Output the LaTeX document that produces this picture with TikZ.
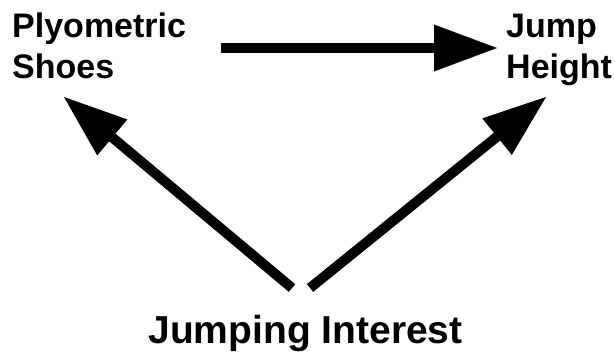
\documentclass[tikz,border=0pt]{standalone}
\usepackage{fontspec}
\setmainfont{Liberation Sans}
\usetikzlibrary{arrows.meta}
\begin{document}
\begin{tikzpicture}[x=1pt,y=-1pt,
  lbl/.style={font=\fontsize{34}{41}\selectfont\bfseries, inner sep=0pt, align=left, anchor=base west},
  bigarrow/.style={line width=10pt, -{Triangle[length=63pt,width=47pt,line width=0pt]}}]
\useasboundingbox (0,0) rectangle (615,356);
\node[lbl] (ps) at (12,78) {Plyometric\\Shoes};
\node[lbl] (jh) at (506,78) {Jump\\Height};
\node[font=\fontsize{39}{45}\selectfont\bfseries, inner sep=0pt, anchor=base] (ji) at (305.5,343) {Jumping Interest};
\coordinate (a1s) at (221,48);
\coordinate (a1e) at (497,48);
\coordinate (a2s) at (292,288);
\coordinate (a2e) at (64,97);
\coordinate (a3s) at (310,288);
\coordinate (a3e) at (546,97);
\draw[bigarrow] (a1s) -- (a1e);
\draw[bigarrow] (a2s) -- (a2e);
\draw[bigarrow] (a3s) -- (a3e);
\end{tikzpicture}
\end{document}
